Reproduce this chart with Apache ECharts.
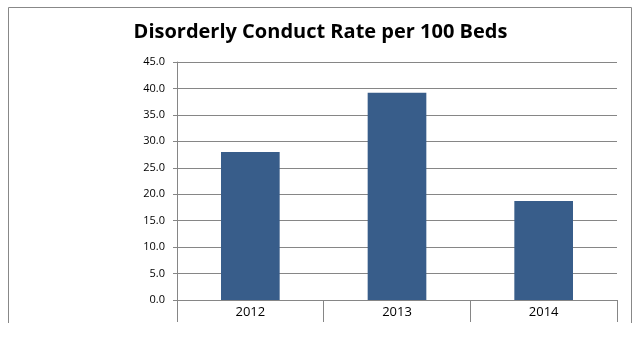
<!DOCTYPE html>
<html>
<head>
<meta charset="utf-8">
<script src="https://cdn.jsdelivr.net/npm/echarts@6/dist/echarts.min.js"></script>
<style>
html,body{margin:0;padding:0;background:#fff;}
#chart{width:641px;height:337px;}
</style>
</head>
<body>
<div id="chart"></div>
<script>
const titleText = 'Disorderly Conduct Rate per 100 Beds';
const categories = ['2012', '2013', '2014'];
const values = [28.0, 39.2, 18.7];
const yMin = 0, yMax = 45, yStep = 5;

const chart = echarts.init(document.getElementById('chart'), null, {renderer: 'canvas'});
chart.setOption({
  animation: false,
  backgroundColor: '#fff',
  title: {
    text: titleText,
    left: 'center',
    top: 17,
    textStyle: {fontFamily: 'Open Sans', fontWeight: 'bold', fontSize: 20, color: '#000'}
  },
  graphic: [{
    type: 'polyline',
    shape: {points: [[8.5, 323], [8.5, 7.5], [631.5, 7.5], [631.5, 323]]},
    style: {stroke: '#888', lineWidth: 1, fill: null},
    silent: true
  }],
  grid: {left: 177, right: 24, top: 62, bottom: 37, containLabel: false},
  xAxis: {
    type: 'category',
    data: categories,
    boundaryGap: true,
    axisLine: {show: true, lineStyle: {color: '#868686', width: 1}},
    axisTick: {show: true, length: 22, alignWithLabel: false, lineStyle: {color: '#868686'}},
    axisLabel: {color: '#000', fontFamily: 'Open Sans', fontSize: 13, margin: 6}
  },
  yAxis: {
    type: 'value',
    min: yMin, max: yMax, interval: yStep,
    axisLine: {show: true, lineStyle: {color: '#868686', width: 1}},
    axisTick: {show: true, length: 4, inside: false, lineStyle: {color: '#868686'}},
    splitLine: {show: true, lineStyle: {color: '#868686', width: 1}},
    axisLabel: {color: '#000', fontFamily: 'Open Sans', fontSize: 11, margin: 12,
      formatter: v => v.toFixed(1)}
  },
  series: [{
    type: 'bar',
    data: values,
    barWidth: '40%',
    itemStyle: {color: '#385D8A'}
  }]
});
</script>
</body>
</html>
